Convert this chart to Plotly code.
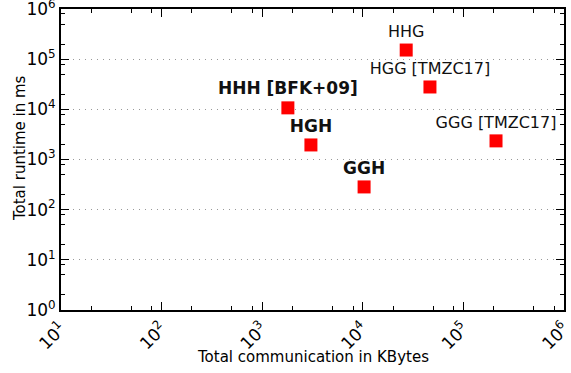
import plotly.graph_objects as go

names = ["HHH [BFK+09]", "HGH", "GGH", "HHG", "HGG [TMZC17]", "GGG [TMZC17]"]
bold = [True, True, True, False, False, False]
comm_kb = [1800, 3050, 10300, 27000, 46500, 211000]
runtime_ms = [10700, 1950, 284, 152000, 27900, 2350]

x_ticks = [10, 100, 1000, 10000, 100000, 1000000]
x_ticktext = ["10<sup>1</sup>", "10<sup>2</sup>", "10<sup>3</sup>", "10<sup>4</sup>", "10<sup>5</sup>", "10<sup>6</sup>"]
y_ticks = [1, 10, 100, 1000, 10000, 100000, 1000000]
y_ticktext = ["10<sup>0</sup>", "10<sup>1</sup>", "10<sup>2</sup>", "10<sup>3</sup>", "10<sup>4</sup>", "10<sup>5</sup>", "10<sup>6</sup>"]

labels = [f"<b>{n}</b>" if b else n for n, b in zip(names, bold)]
label_sizes = [17 if b else 16 for b in bold]

def minor_vals(lo, hi):
    vals = []
    d = lo
    while d < hi:
        for m in (2, 5, 8):
            vals.append(d * m)
        d *= 10
    return vals

FONT = "DejaVu Sans"

fig = go.Figure()
fig.add_trace(go.Scatter(
    x=comm_kb, y=runtime_ms, mode="markers+text",
    text=labels, textposition="top center",
    textfont=dict(family=FONT, size=label_sizes, color="#111111"),
    marker=dict(symbol="square", size=13, color="#ff0000", line=dict(width=0)),
    cliponaxis=False, showlegend=False, hoverinfo="skip",
))

axis_common = dict(
    type="log", showline=True, linecolor="black", linewidth=2, mirror="ticks",
    ticks="inside", ticklen=8, tickwidth=1, tickcolor="black",
    tickfont=dict(family=FONT, size=17, color="black"),
    zeroline=False, automargin=False, ticklabeloverflow="allow",
)

fig.update_xaxes(
    **axis_common, range=[1, 6], tickmode="array", tickvals=x_ticks, ticktext=x_ticktext,
    tickangle=-45, showgrid=False,
    minor=dict(tickmode="array", tickvals=minor_vals(10, 1000000), ticks="inside", ticklen=4, tickcolor="black", showgrid=False),
)
fig.update_yaxes(
    **axis_common, range=[0, 6], tickmode="array", tickvals=y_ticks, ticktext=y_ticktext,
    showgrid=True, gridcolor="#999999", griddash="1px,5px", gridwidth=1,
    minor=dict(tickmode="array", tickvals=minor_vals(1, 1000000), ticks="inside", ticklen=4, tickcolor="black", showgrid=False),
)

fig.add_annotation(
    text="Total communication in KBytes", xref="paper", yref="paper",
    x=0.5, y=-0.156, xanchor="center", yanchor="middle", showarrow=False,
    font=dict(family=FONT, size=15, color="black"),
)
fig.add_annotation(
    text="Total runtime in ms", xref="paper", yref="paper",
    x=-0.0815, y=0.538, xanchor="center", yanchor="middle", showarrow=False,
    textangle=-90, font=dict(family=FONT, size=15, color="black"),
)

fig.update_layout(
    width=571, height=373,
    margin=dict(l=61, r=7, t=9, b=63),
    plot_bgcolor="white", paper_bgcolor="white",
    font=dict(family=FONT),
)

fig.write_html("out.html", config={"displayModeBar": False},
               post_script="document.body.style.margin='0';document.body.style.overflow='hidden';")
